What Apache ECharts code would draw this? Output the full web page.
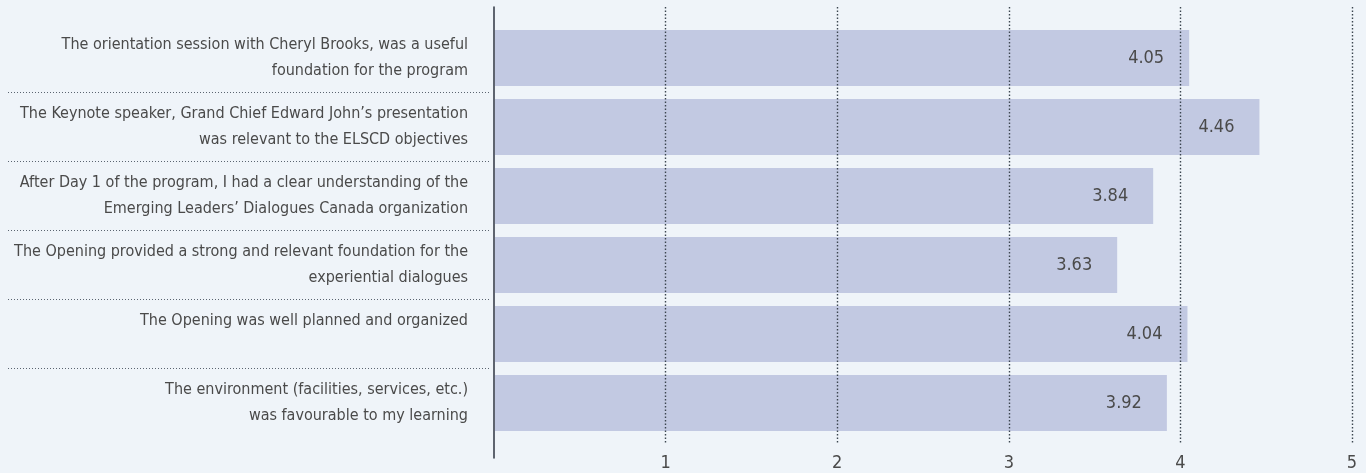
<!DOCTYPE html>
<html lang="en">
<head>
  <meta charset="UTF-8">
  <title>ELSCD Opening evaluation</title>
  <style>
    html, body { margin: 0; padding: 0; background: #eff4f9; }
  </style>
</head>
<body>
  <div id="main" style="width: 1366px; height: 473px"></div>
  <script src="https://cdn.jsdelivr.net/npm/echarts@6/dist/echarts.min.js"></script>
  <script>
    // statements, top to bottom
    const categories = [
      'The orientation session with Cheryl Brooks, was a useful\nfoundation for the program',
      'The Keynote speaker, Grand Chief Edward John\u2019s presentation\nwas relevant to the ELSCD objectives',
      'After Day 1 of the program, I had a clear understanding of the\nEmerging Leaders\u2019 Dialogues Canada organization',
      'The Opening provided a strong and relevant foundation for the\nexperiential dialogues',
      'The Opening was well planned and organized',
      'The environment (facilities, services, etc.)\nwas favourable to my learning'
    ];
    const scores = [4.05, 4.46, 3.84, 3.63, 4.04, 3.92];
    const scaleMin = 0;
    const scaleMax = 5;

    const font = '"Liberation Sans Narrow", "DejaVu Sans Condensed", sans-serif';
    const textColor = '#4a4a4a';

    let myChart = echarts.init(document.getElementById('main'));
    let option = {
      backgroundColor: '#eff4f9',
      animation: false,
      grid: [
        // 0: bars
        { left: 495, right: 14, top: 23.5, bottom: 35.5, outerBoundsMode: 'none' },
        // 1: dotted value grid + tick labels (drawn over the bars)
        { left: 494, right: 14, top: 7, bottom: 30, outerBoundsMode: 'none' },
        // 2: vertical axis line
        { left: 494, right: 14, top: 7, bottom: 15, outerBoundsMode: 'none' },
        // 3: dotted separators under the labels
        { left: 8, width: 482, top: 23.5, bottom: 35.5, outerBoundsMode: 'none' }
      ],
      xAxis: [
        { gridIndex: 0, type: 'value', min: scaleMin, max: scaleMax, show: false },
        {
          gridIndex: 1, type: 'value', min: scaleMin, max: scaleMax, interval: 1, z: 10,
          axisLine: { show: false },
          axisTick: { show: false },
          axisLabel: {
            showMinLabel: false, margin: 11,
            fontFamily: font, fontSize: 18, color: textColor
          },
          splitLine: {
            showMinLine: false,
            lineStyle: { color: '#3c4650', width: 1.4, type: [1.4, 2.1] }
          }
        },
        { gridIndex: 2, type: 'value', show: false },
        { gridIndex: 3, type: 'value', show: false }
      ],
      yAxis: [
        {
          gridIndex: 0, type: 'category', inverse: true, data: categories,
          axisLine: { show: false },
          axisTick: { show: false },
          axisLabel: {
            margin: 27, align: 'right',
            fontFamily: font, fontSize: 16, lineHeight: 26, color: textColor,
            // one-line labels sit on the upper line like the others
            formatter: function (v) { return v.indexOf('\n') >= 0 ? v : v + '\n '; }
          }
        },
        { gridIndex: 1, type: 'value', show: false },
        {
          gridIndex: 2, type: 'value', z: 10,
          axisLine: { show: true, lineStyle: { color: '#2e3540', width: 1.5 } },
          axisTick: { show: false },
          axisLabel: { show: false },
          splitLine: { show: false }
        },
        {
          gridIndex: 3, type: 'category', inverse: true, data: categories,
          axisLine: { show: false },
          axisTick: { show: false },
          axisLabel: { show: false },
          splitLine: {
            show: true, showMinLine: false, showMaxLine: false,
            lineStyle: { color: '#5a6470', width: 1, type: [1, 2] }
          }
        }
      ],
      series: [
        {
          type: 'bar',
          xAxisIndex: 0,
          yAxisIndex: 0,
          data: scores,
          barWidth: 56,
          itemStyle: { color: '#c2c9e2' },
          label: {
            show: true,
            position: 'insideRight',
            distance: 25,
            fontFamily: font,
            fontSize: 18,
            color: textColor,
            formatter: function (p) { return p.value.toFixed(2); }
          }
        }
      ]
    };
    myChart.setOption(option);
  </script>
</body>
</html>
